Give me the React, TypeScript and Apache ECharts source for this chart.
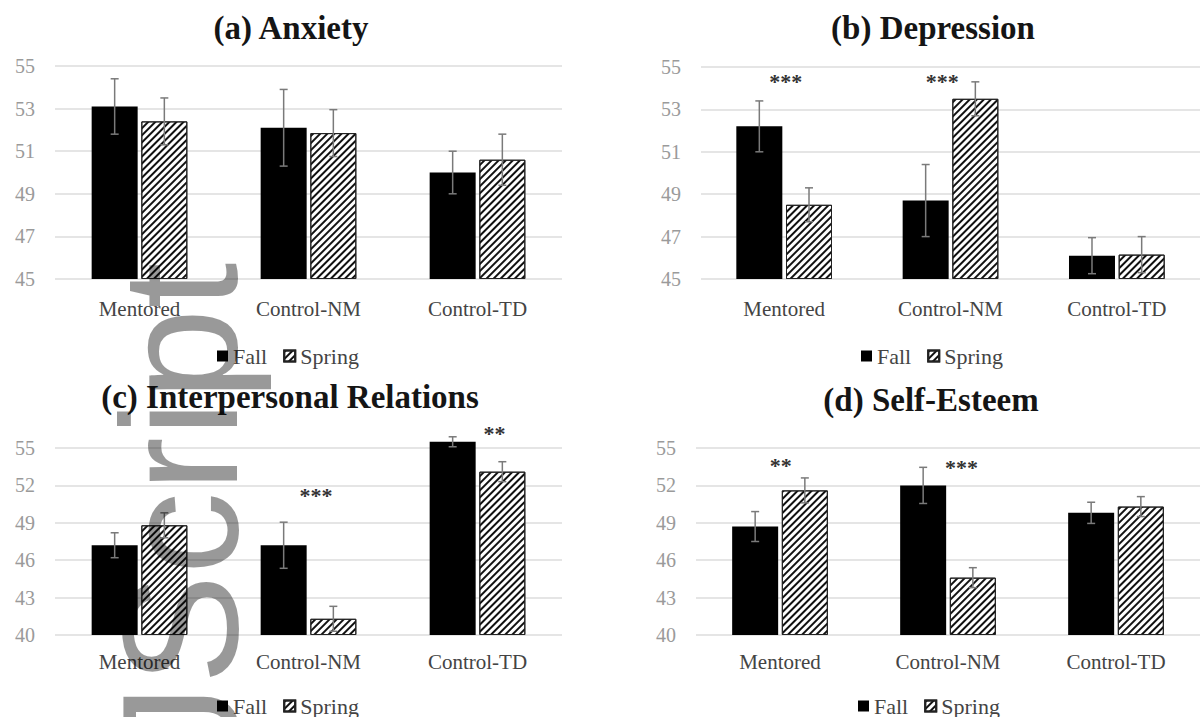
import React, { useEffect, useRef } from 'react';
import * as echarts from 'echarts';

const categories = ['Mentored', 'Control-NM', 'Control-TD'];
const seasonNames = ['Fall', 'Spring'];
const panelTitles = ['(a) Anxiety', '(b) Depression', '(c) Interpersonal Relations', '(d) Self-Esteem'];

// (a) Anxiety
const anxietyFall = [53.1, 52.1, 50.0];
const anxietySpring = [52.4, 51.85, 50.6];
const anxietyFallErr = [1.3, 1.8, 1.0];
const anxietySpringErr = [1.1, 1.1, 1.2];
const anxietyStarText: string[] = [];
const anxietyStarCat: number[] = [];
const anxietyStarShift: number[] = [];
const anxietyStarY: number[] = [];

// (b) Depression
const depressionFall = [52.2, 48.7, 46.1];
const depressionSpring = [48.5, 53.5, 46.15];
const depressionFallErr = [1.2, 1.7, 0.85];
const depressionSpringErr = [0.8, 0.8, 0.85];
const depressionStarText = ['***', '***'];
const depressionStarCat = [0, 1];
const depressionStarShift = [0.01, -0.05];
const depressionStarY = [54.3, 54.3];

// (c) Interpersonal Relations
const relationsFall = [47.2, 47.2, 55.5];
const relationsSpring = [48.8, 41.3, 53.1];
const relationsFallErr = [1.0, 1.85, 0.4];
const relationsSpringErr = [1.0, 1.0, 0.8];
const relationsStarText = ['***', '**'];
const relationsStarCat = [1, 2];
const relationsStarShift = [0.045, 0.1];
const relationsStarY = [51.2, 56.2];

// (d) Self-Esteem
const esteemFall = [48.7, 52.0, 49.8];
const esteemSpring = [51.6, 44.6, 50.3];
const esteemFallErr = [1.2, 1.45, 0.85];
const esteemSpringErr = [1.0, 0.8, 0.8];
const esteemStarText = ['**', '***'];
const esteemStarCat = [0, 1];
const esteemStarShift = [0.005, 0.08];
const esteemStarY = [53.6, 53.4];

// y axes
const yMinA = 45, yMaxA = 55, yStepA = 2;
const yMinC = 40, yMaxC = 55, yStepC = 3;

const SERIF = "'Liberation Serif', 'Times New Roman', serif";
const BAR_W = 46;
const BAR_GAP = 0.08;
const OFFSET = (BAR_W + BAR_W * BAR_GAP) / 2;

const panels = [
  { fall: anxietyFall, spring: anxietySpring, fe: anxietyFallErr, se: anxietySpringErr,
    st: anxietyStarText, sc: anxietyStarCat, ss: anxietyStarShift, sy: anxietyStarY,
    min: yMinA, max: yMaxA, step: yStepA,
    grid: { left: 55, top: 66, width: 507, height: 213 }, catMargin: 19,
    legend: { left: 212, top: 340 }, title: [291, 28] },
  { fall: depressionFall, spring: depressionSpring, fe: depressionFallErr, se: depressionSpringErr,
    st: depressionStarText, sc: depressionStarCat, ss: depressionStarShift, sy: depressionStarY,
    min: yMinA, max: yMaxA, step: yStepA,
    grid: { left: 701, top: 67, width: 503, height: 212 }, catMargin: 19,
    legend: { left: 856, top: 340 }, title: [933, 28] },
  { fall: relationsFall, spring: relationsSpring, fe: relationsFallErr, se: relationsSpringErr,
    st: relationsStarText, sc: relationsStarCat, ss: relationsStarShift, sy: relationsStarY,
    min: yMinC, max: yMaxC, step: yStepC,
    grid: { left: 55, top: 448, width: 507, height: 187 }, catMargin: 16,
    legend: { left: 212, top: 690 }, title: [290, 397] },
  { fall: esteemFall, spring: esteemSpring, fe: esteemFallErr, se: esteemSpringErr,
    st: esteemStarText, sc: esteemStarCat, ss: esteemStarShift, sy: esteemStarY,
    min: yMinC, max: yMaxC, step: yStepC,
    grid: { left: 696, top: 448, width: 507, height: 187 }, catMargin: 16,
    legend: { left: 853, top: 690 }, title: [931, 400] },
];

const hatch = {
  symbol: 'rect',
  symbolSize: 1,
  color: '#111',
  backgroundColor: '#fff',
  dashArrayX: [1, 0],
  dashArrayY: [2, 3],
  rotation: -Math.PI / 4,
};

function errSeries(gi: number, vals: number[], errs: number[], side: number) {
  return {
    type: 'custom',
    xAxisIndex: gi,
    yAxisIndex: gi,
    z: 5,
    silent: true,
    data: vals.map((v, k) => [k, v, errs[k]]),
    renderItem: (params: any, api: any) => {
      const c = api.value(0);
      const v = api.value(1);
      const e = api.value(2);
      const top = api.coord([c, v + e]);
      const bot = api.coord([c, v - e]);
      const x = top[0] + side * OFFSET;
      const st = { stroke: '#7a7a7a', lineWidth: 1.5 };
      return {
        type: 'group',
        children: [
          { type: 'line', shape: { x1: x, y1: top[1], x2: x, y2: bot[1] }, style: st },
          { type: 'line', shape: { x1: x - 4, y1: top[1], x2: x + 4, y2: top[1] }, style: st },
          { type: 'line', shape: { x1: x - 4, y1: bot[1], x2: x + 4, y2: bot[1] }, style: st },
        ],
      };
    },
  };
}

function starSeries(gi: number, texts: string[], cats: number[], shifts: number[], ys: number[]) {
  return {
    type: 'custom',
    xAxisIndex: gi,
    yAxisIndex: gi,
    z: 6,
    silent: true,
    data: cats.map((c, k) => [c, ys[k], shifts[k]]),
    renderItem: (params: any, api: any) => {
      const p = api.coord([api.value(0), api.value(1)]);
      const band = api.size([1, 0])[0];
      return {
        type: 'text',
        x: p[0] + api.value(2) * band,
        y: p[1],
        style: {
          text: texts[params.dataIndex],
          fontSize: 22,
          fontWeight: 'bold',
          fontFamily: SERIF,
          fill: '#333',
          align: 'center',
          verticalAlign: 'middle',
          textAlign: 'center',
          textVerticalAlign: 'middle',
        },
      };
    },
  };
}

export default function App() {
  const ref = useRef<HTMLDivElement>(null);
  useEffect(() => {
    if (!ref.current) return;
    const chart = echarts.init(ref.current, null, { renderer: 'svg' });
    const grid: any[] = [];
    const xAxis: any[] = [];
    const yAxis: any[] = [];
    const legend: any[] = [];
    const series: any[] = [];
    const graphic: any[] = [];
    panels.forEach((p, i) => {
      grid.push({ ...p.grid, containLabel: false });
      xAxis.push({
        type: 'category',
        gridIndex: i,
        data: categories,
        axisLine: { show: false },
        axisTick: { show: false },
        axisLabel: { margin: p.catMargin, fontSize: 21, color: '#444', fontFamily: SERIF },
      });
      yAxis.push({
        type: 'value',
        gridIndex: i,
        min: p.min,
        max: p.max,
        interval: p.step,
        axisLine: { show: false },
        axisTick: { show: false },
        axisLabel: { margin: 20, fontSize: 20, color: '#9a9a9a', fontFamily: SERIF },
        splitLine: { lineStyle: { color: '#dcdcdc', width: 1.5 } },
      });
      legend.push({
        left: p.legend.left,
        top: p.legend.top,
        orient: 'horizontal',
        itemWidth: 11,
        itemHeight: 11,
        itemGap: 16,
        icon: 'rect',
        data: seasonNames,
        textStyle: { fontSize: 22, color: '#444', fontFamily: SERIF },
      });
      const common = {
        type: 'bar',
        xAxisIndex: i,
        yAxisIndex: i,
        barWidth: BAR_W,
        barGap: `${BAR_GAP * 100}%`,
      };
      // invisible base so bars start at the axis minimum
      series.push({ ...common, name: 'baseFall', stack: `fall${i}`, silent: true, clip: true,
        data: p.fall.map(() => p.min), itemStyle: { color: 'rgba(0,0,0,0)' } });
      series.push({ ...common, name: seasonNames[0], stack: `fall${i}`, clip: false,
        data: p.fall.map((v) => v - p.min), itemStyle: { color: '#000' } });
      series.push({ ...common, name: 'baseSpring', stack: `spring${i}`, silent: true, clip: true,
        data: p.spring.map(() => p.min), itemStyle: { color: 'rgba(0,0,0,0)' } });
      series.push({ ...common, name: seasonNames[1], stack: `spring${i}`, clip: false,
        data: p.spring.map((v) => v - p.min),
        itemStyle: { color: '#fff', borderColor: '#222', borderWidth: 1, decal: hatch } });
      series.push(errSeries(i, p.fall, p.fe, -1));
      series.push(errSeries(i, p.spring, p.se, 1));
      series.push(starSeries(i, p.st, p.sc, p.ss, p.sy));
      graphic.push({
        type: 'text',
        x: p.title[0],
        y: p.title[1],
        style: {
          text: panelTitles[i],
          fontSize: 33,
          fontWeight: 'bold',
          fontFamily: SERIF,
          fill: '#151515',
          align: 'center',
          verticalAlign: 'middle',
          textAlign: 'center',
          textVerticalAlign: 'middle',
        },
      });
    });
    graphic.push({
      type: 'text',
      x: 180,
      y: 767,
      rotation: Math.PI / 2,
      z: 100,
      silent: true,
      style: {
        text: 'JScript',
        fontSize: 165,
        fontFamily: "'Liberation Sans', Arial, sans-serif",
        fill: 'rgba(0,0,0,0.4)',
        align: 'left',
        verticalAlign: 'middle',
        textAlign: 'left',
        textVerticalAlign: 'middle',
      },
    });
    chart.setOption({
      animation: false,
      backgroundColor: '#fff',
      grid,
      xAxis,
      yAxis,
      legend,
      series,
      graphic,
    });
    return () => chart.dispose();
  }, []);
  return (
    <div
      ref={ref}
      style={{ position: 'fixed', left: 0, top: 0, width: 1200, height: 717, background: '#fff' }}
    />
  );
}
